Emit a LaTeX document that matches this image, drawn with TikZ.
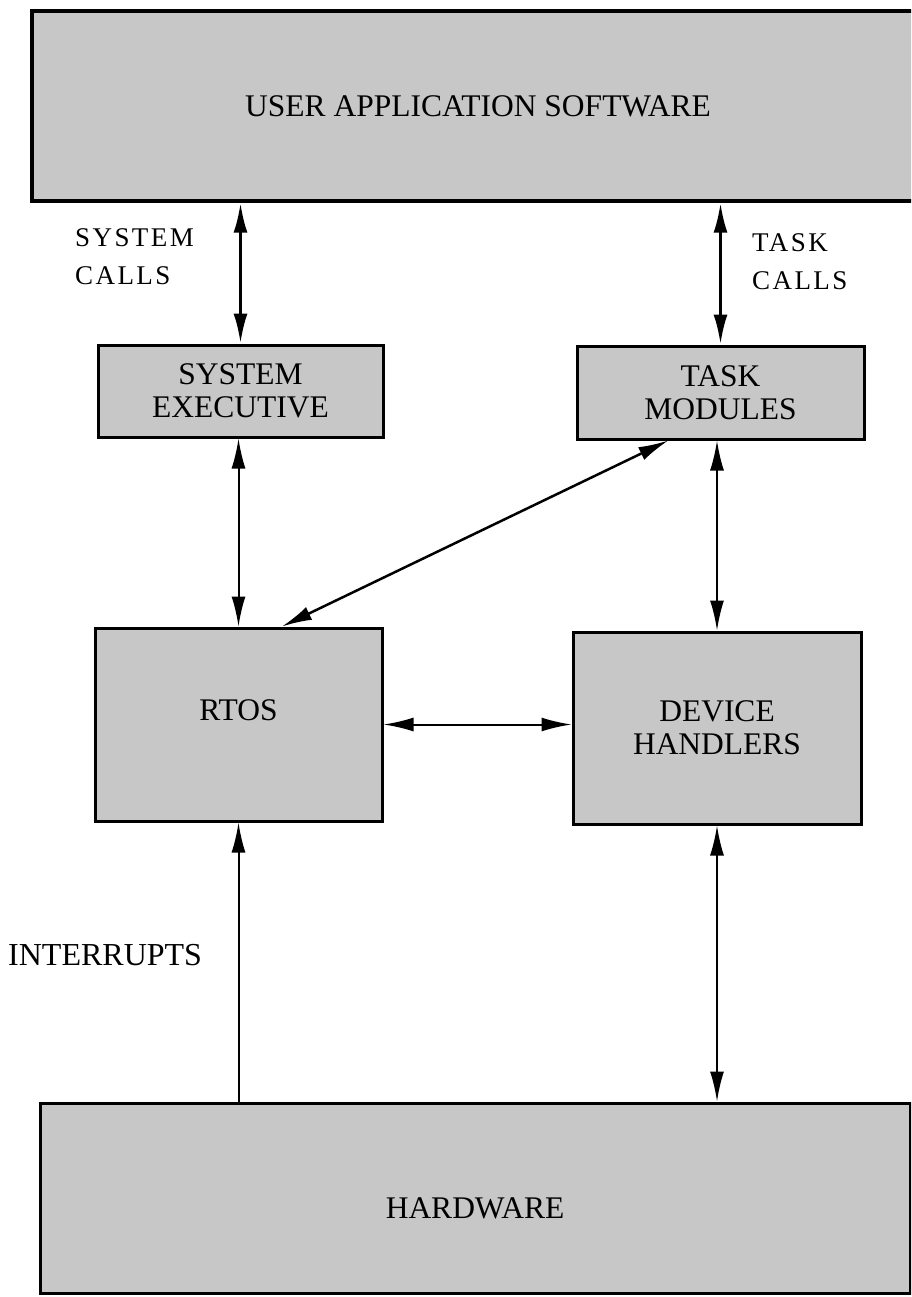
\documentclass[tikz,border=0pt]{standalone}
\usepackage{fontspec}
\setmainfont{Liberation Serif}
\newfontfamily\lblfont[LetterSpace=9]{Liberation Serif}
\usetikzlibrary{arrows.meta,calc}

\begin{document}
\begin{tikzpicture}[x=1pt, y=-1pt, >={Latex[length=30pt,width=14pt]},
    blk/.style={draw, line width=3pt, fill=black!22, align=center, inner sep=0pt,
      font=\fontsize{31.5}{33}\selectfont},
    lbl/.style={align=left, inner sep=0pt, font=\lblfont\fontsize{27}{38}\selectfont},
    link/.style={<->, line width=2pt}]
  \useasboundingbox (0,0) rectangle (911,1297);
  \clip (0,0) rectangle (911,1297);

  %% the layers, top to bottom (the top one runs off the page on the right)
  \node[blk, line width=3.5pt, minimum width=892pt, minimum height=190pt] (usr) at (478,106) {USER APPLICATION SOFTWARE};
  \node[blk, minimum width=285pt, minimum height=92pt] (sysexe) at (240.5,391) {SYSTEM\\EXECUTIVE};
  \node[blk, minimum width=287pt, minimum height=93pt] (taskmod) at (720.5,392.5) {TASK\\MODULES};
  \node[blk, minimum width=287pt, minimum height=193pt] (rtos) at (238.5,724.5) {\raisebox{4pt}[0pt][0pt]{RTOS}};
  \node[blk, minimum width=288pt, minimum height=192pt] (devh) at (717,728) {DEVICE\\HANDLERS};
  \node[blk, minimum width=870pt, minimum height=190pt] (hw) at (475,1198) {\raisebox{-20pt}[0pt][0pt]{HARDWARE}};

  \node[lbl, anchor=west] (syscall) at (75,257) {SYSTEM\\CALLS};
  \node[lbl, anchor=west] (taskcall) at (752,262) {TASK\\CALLS};
  \node[lbl, anchor=west, font=\fontsize{32}{33}\selectfont] (intr) at (8,955) {INTERRUPTS};

  %% calls from the application
  \draw[link, line width=3pt] (usr.south -| sysexe.north) -- (sysexe.north);
  \draw[link, line width=3pt] (usr.south -| taskmod.north) -- (taskmod.north);

  \draw[link] (sysexe.south -| rtos.north) -- (rtos.north);
  \draw[link] (taskmod.south -| devh.north) -- (devh.north);
  \draw[link, line width=2.5pt] ($(taskmod.south west)!0.32!(taskmod.south east)$) -- ($(rtos.north west)!0.65!(rtos.north east)$);
  \draw[link] (rtos.east) -- (rtos.east -| devh.west);

  %% hardware side
  \draw[->, line width=2pt] (hw.north -| rtos.south) -- (rtos.south);
  \draw[link, line width=2pt] (devh.south) -- (devh.south |- hw.north);
\end{tikzpicture}
\end{document}
